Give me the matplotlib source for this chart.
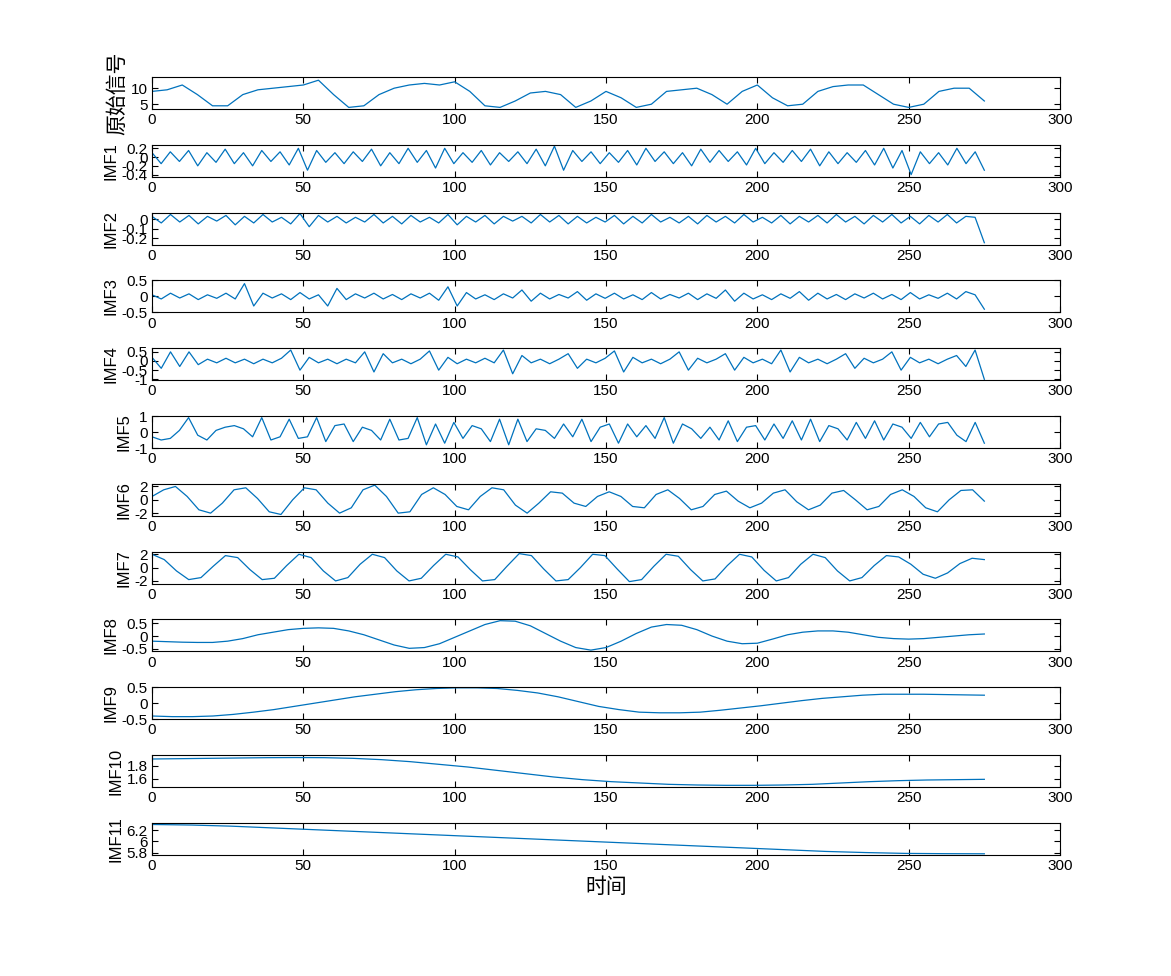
import numpy as np
import matplotlib
matplotlib.use("Agg")
from matplotlib import pyplot as plt

plt.rcParams['font.family'] = ['Liberation Sans', 'Noto Sans CJK SC', 'DejaVu Sans']

# values (x spans 0..275 for every series)
signal = [9, 9.5, 11, 8, 4.5, 4.5, 8, 9.5, 10, 10.5, 11, 12.5, 8, 4, 4.5, 8, 10, 11, 11.5, 11,
          12, 9, 4.5, 4, 6, 8.5, 9, 8, 4, 6, 9, 7, 4, 5, 9, 9.5, 10, 8, 5, 9, 11, 7, 4.5, 5, 9,
          10.5, 11, 11, 8, 5, 4, 5, 9, 10, 10, 6]
imf1 = [0.1, -0.15, 0.12, -0.1, 0.15, -0.2, 0.1, -0.12, 0.18, -0.15, 0.1, -0.2, 0.15, -0.1, 0.12,
        -0.18, 0.2, -0.3, 0.15, -0.12, 0.1, -0.15, 0.12, -0.1, 0.18, -0.2, 0.1, -0.15, 0.2, -0.12,
        0.15, -0.25, 0.2, -0.15, 0.1, -0.12, 0.15, -0.18, 0.1, -0.1, 0.12, -0.15, 0.18, -0.2, 0.25,
        -0.3, 0.15, -0.1, 0.12, -0.15, 0.1, -0.12, 0.15, -0.18, 0.2, -0.1, 0.12, -0.15, 0.1, -0.2,
        0.18, -0.12, 0.15, -0.1, 0.12, -0.18, 0.2, -0.15, 0.1, -0.12, 0.15, -0.1, 0.18, -0.2, 0.12,
        -0.15, 0.1, -0.12, 0.15, -0.18, 0.2, -0.25, 0.15, -0.4, 0.12, -0.15, 0.1, -0.18, 0.2, -0.15,
        0.12, -0.3]
imf2 = [0.03, -0.04, 0.05, -0.03, 0.04, -0.05, 0.03, -0.02, 0.04, -0.06, 0.03, -0.04, 0.05, -0.03,
        0.02, -0.05, 0.06, -0.08, 0.04, -0.03, 0.03, -0.04, 0.02, -0.03, 0.05, -0.04, 0.03, -0.05,
        0.04, -0.03, 0.02, -0.04, 0.05, -0.06, 0.03, -0.03, 0.04, -0.05, 0.03, -0.02, 0.03, -0.04,
        0.05, -0.03, 0.04, -0.05, 0.03, -0.04, 0.02, -0.03, 0.04, -0.05, 0.03, -0.04, 0.05, -0.03,
        0.02, -0.04, 0.03, -0.05, 0.04, -0.03, 0.03, -0.04, 0.05, -0.03, 0.02, -0.04, 0.04, -0.05,
        0.03, -0.03, 0.04, -0.04, 0.05, -0.03, 0.03, -0.05, 0.04, -0.03, 0.05, -0.04, 0.03, -0.05,
        0.04, -0.03, 0.05, -0.04, 0.03, 0.02, -0.25]
imf3 = [0.05, -0.08, 0.1, -0.05, 0.08, -0.1, 0.05, -0.06, 0.1, -0.08, 0.4, -0.3, 0.1, -0.05,
        0.08, -0.1, 0.12, -0.08, 0.05, -0.3, 0.25, -0.1, 0.08, -0.05, 0.1, -0.08, 0.06, -0.1,
        0.08, -0.05, 0.1, -0.12, 0.3, -0.3, 0.12, -0.08, 0.05, -0.1, 0.08, -0.05, 0.2, -0.15,
        0.1, -0.08, 0.06, -0.05, 0.15, -0.12, 0.08, -0.06, 0.1, -0.08, 0.05, -0.1, 0.12, -0.08,
        0.06, -0.05, 0.1, -0.1, 0.08, -0.06, 0.2, -0.15, 0.1, -0.08, 0.05, -0.1, 0.08, -0.06,
        0.15, -0.12, 0.1, -0.08, 0.06, -0.1, 0.08, -0.05, 0.1, -0.08, 0.06, -0.1, 0.12, -0.08,
        0.05, -0.06, 0.1, -0.08, 0.15, 0.05, -0.4]
imf4 = [0.2, -0.4, 0.5, -0.3, 0.5, -0.2, 0.1, -0.1, 0.15, -0.1, 0.1, -0.15, 0.1, -0.1, 0.15,
        0.6, -0.5, 0.2, -0.1, 0.1, -0.15, 0.1, -0.1, 0.5, -0.6, 0.4, -0.1, 0.1, -0.15, 0.1, 0.55,
        -0.5, 0.2, -0.15, 0.1, -0.1, 0.15, -0.1, 0.6, -0.7, 0.3, -0.1, 0.1, -0.15, 0.1, 0.4, -0.4,
        0.1, -0.1, 0.15, 0.55, -0.6, 0.2, -0.1, 0.1, -0.15, 0.1, 0.5, -0.5, 0.15, -0.1, 0.1, 0.4,
        -0.5, 0.2, -0.1, 0.1, -0.15, 0.6, -0.6, 0.2, -0.1, 0.1, -0.15, 0.1, 0.4, -0.4, 0.15, -0.1,
        0.1, 0.5, -0.5, 0.2, -0.1, 0.1, -0.15, 0.1, 0.3, -0.3, 0.6, -1.0]
imf5 = [-0.3, -0.5, -0.4, 0.1, 0.9, -0.2, -0.5, 0.1, 0.3, 0.4, 0.2, -0.3, 0.9, -0.5, -0.3, 0.8,
        -0.4, -0.3, 0.9, -0.6, 0.4, 0.5, -0.6, 0.3, 0.1, -0.5, 0.8, -0.5, -0.4, 0.9, -0.8, 0.5,
        -0.7, 0.6, -0.4, 0.4, 0.2, -0.6, 0.8, -0.8, 0.8, -0.6, 0.2, 0.1, -0.4, 0.5, -0.3, 0.8,
        -0.6, 0.3, 0.5, -0.7, 0.5, -0.3, 0.4, -0.4, 0.9, -0.7, 0.5, 0.2, -0.4, 0.3, -0.5, 0.7,
        -0.6, 0.3, 0.4, -0.5, 0.5, -0.4, 0.7, -0.5, 0.8, -0.6, 0.4, 0.2, -0.5, 0.6, -0.4, 0.7,
        -0.5, 0.5, 0.3, -0.4, 0.6, -0.3, 0.5, 0.6, -0.2, -0.6, 0.6, -0.7]
imf6 = [0.5, 1.5, 2.0, 0.5, -1.5, -2.0, -0.5, 1.5, 1.8, 0.2, -1.8, -2.2, 0.0, 1.8, 1.5, -0.5,
        -2.0, -1.2, 1.5, 2.2, 0.5, -2.0, -1.8, 0.8, 1.8, 0.8, -1.0, -1.5, 0.5, 1.8, 1.5, -0.8,
        -2.0, -0.5, 1.2, 1.0, -0.5, -1.0, 0.5, 1.2, 0.5, -1.0, -1.2, 0.8, 1.5, 0.2, -1.5, -1.0,
        0.8, 1.3, -0.2, -1.2, -0.5, 1.0, 1.5, -0.3, -1.5, -0.8, 1.0, 1.4, 0.0, -1.5, -1.0, 0.8,
        1.5, 0.5, -1.2, -1.8, 0.0, 1.4, 1.5, -0.2]
imf7 = [2.0, 1.2, -0.5, -1.8, -1.5, 0.2, 1.8, 1.5, -0.3, -1.8, -1.6, 0.3, 2.0, 1.5, -0.5,
        -2.0, -1.5, 0.5, 2.0, 1.5, -0.5, -2.0, -1.6, 0.3, 2.0, 1.6, -0.3, -2.0, -1.8, 0.2, 2.1,
        1.8, -0.2, -2.0, -1.8, 0.0, 2.0, 1.8, -0.2, -2.1, -1.8, 0.2, 2.0, 1.7, -0.3, -2.0, -1.7,
        0.3, 2.0, 1.6, -0.4, -2.0, -1.5, 0.5, 2.0, 1.5, -0.5, -2.0, -1.5, 0.3, 1.8, 1.6, 0.5,
        -1.0, -1.6, -0.8, 0.6, 1.4, 1.2]
imf8 = [-0.2, -0.22, -0.24, -0.25, -0.25, -0.2, -0.1, 0.05, 0.15, 0.25, 0.3, 0.32, 0.3, 0.2,
        0.05, -0.15, -0.35, -0.48, -0.45, -0.3, -0.05, 0.2, 0.45, 0.6, 0.58, 0.4, 0.1, -0.2,
        -0.45, -0.55, -0.45, -0.2, 0.1, 0.35, 0.45, 0.42, 0.25, 0.0, -0.2, -0.3, -0.28, -0.12,
        0.05, 0.15, 0.2, 0.2, 0.15, 0.05, -0.05, -0.1, -0.12, -0.1, -0.05, 0.0, 0.05, 0.08]
imf9 = [-0.4, -0.42, -0.42, -0.4, -0.35, -0.28, -0.2, -0.1, 0.0, 0.1, 0.2, 0.28, 0.36, 0.42,
        0.46, 0.48, 0.48, 0.46, 0.4, 0.32, 0.2, 0.05, -0.1, -0.2, -0.28, -0.3, -0.3, -0.28,
        -0.22, -0.15, -0.08, 0.0, 0.08, 0.15, 0.2, 0.25, 0.28, 0.28, 0.28, 0.27, 0.26, 0.25]
imf10 = [1.9, 1.905, 1.91, 1.915, 1.92, 1.922, 1.92, 1.91, 1.89, 1.86, 1.82, 1.78, 1.73,
         1.68, 1.63, 1.59, 1.56, 1.54, 1.52, 1.51, 1.505, 1.505, 1.51, 1.52, 1.54, 1.56, 1.575,
         1.585, 1.59, 1.595]
imf11 = [6.3, 6.29, 6.27, 6.24, 6.21, 6.18, 6.15, 6.12, 6.09, 6.06, 6.03, 6.0, 5.97, 5.94,
         5.91, 5.88, 5.85, 5.82, 5.8, 5.785, 5.78, 5.778]

series = [signal, imf1, imf2, imf3, imf4, imf5, imf6, imf7, imf8, imf9, imf10, imf11]
labels = ['原始信号'] + ['IMF%d' % i for i in range(1, 12)]
ylims = [(3.5, 13.5), (-0.45, 0.28), (-0.27, 0.07), (-0.5, 0.5), (-1.05, 0.7), (-1, 1),
         (-2.4, 2.4), (-2.4, 2.4), (-0.6, 0.65), (-0.5, 0.5), (1.48, 1.96), (5.76, 6.33)]
yticks = [[5, 10], [-0.4, -0.2, 0, 0.2], [-0.2, -0.1, 0], [-0.5, 0, 0.5], [-1, -0.5, 0, 0.5],
          [-1, 0, 1], [-2, 0, 2], [-2, 0, 2], [-0.5, 0, 0.5], [-0.5, 0, 0.5], [1.6, 1.8],
          [5.8, 6, 6.2]]

fig = plt.figure(figsize=(11.71, 9.76), dpi=100)
H = 976.0
for i, vals in enumerate(series):
    top = 77 + i * 67.8
    ax = fig.add_axes([152 / 1171, 1 - (top + 32) / H, 908 / 1171, 32 / H])
    x = np.linspace(0, 275, len(vals))
    ax.plot(x, vals, color='#0072BD', linewidth=0.9)
    ax.set_xlim(0, 300)
    ax.set_ylim(*ylims[i])
    ax.set_yticks(yticks[i])
    ax.set_yticklabels(['%g' % t for t in yticks[i]])
    ax.set_xticks([0, 50, 100, 150, 200, 250, 300])
    ax.tick_params(direction='in', top=True, right=True, labelsize=11, length=4, pad=3)
    if i == 0:
        ax.set_ylabel(labels[i], fontsize=15, labelpad=2, family=['Noto Sans CJK SC'])
    else:
        ax.set_ylabel(labels[i], fontsize=12, labelpad=2)
    if i == len(series) - 1:
        ax.set_xlabel('时间', fontsize=15, family=['Noto Sans CJK SC'], labelpad=2)

fig.savefig('out.png', dpi=100)
